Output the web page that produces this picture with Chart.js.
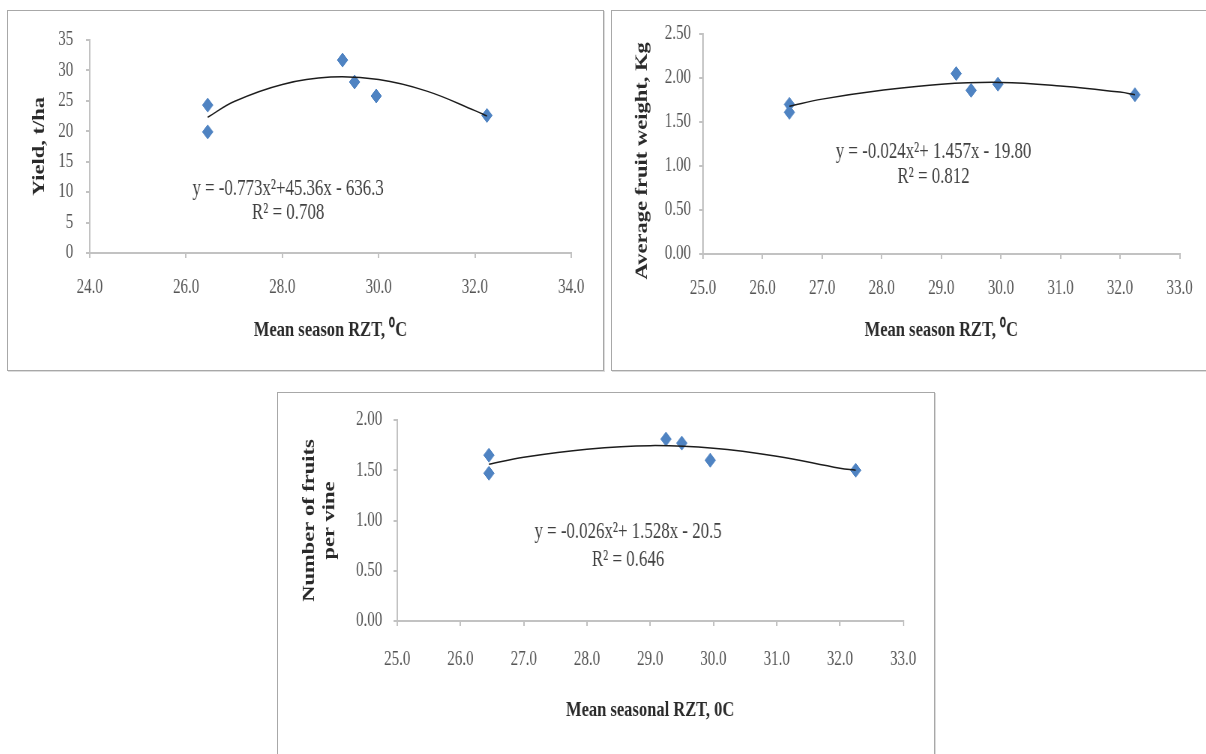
<!DOCTYPE html>
<html>
<head>
<meta charset="utf-8">
<script src="https://cdn.jsdelivr.net/npm/chart.js@4.4.1/dist/chart.umd.min.js"></script>
<style>
  html, body { margin:0; padding:0; background:#ffffff; width:1206px; height:754px; overflow:hidden; }
  .frame { position:absolute; border:1px solid #a8a8a8; box-shadow:1px 1px 0 #dcdcdc; background:#fff; box-sizing:border-box; }
  .wrap { position:absolute; overflow:visible; }
  .wrap canvas { position:absolute; left:0; top:0; transform:scaleX(0.75); transform-origin:0 0; }
</style>
</head>
<body>
<div class="frame" style="left:7px;top:10px;width:597px;height:361px"></div>
<div class="frame" style="left:611px;top:10px;width:620px;height:361px"></div>
<div class="frame" style="left:277px;top:392px;width:658px;height:380px"></div>

<div class="wrap" style="left:8px;top:11px;width:594px;height:358px"><canvas id="c1" width="792" height="358"></canvas></div>
<div class="wrap" style="left:613px;top:11px;width:593px;height:358px"><canvas id="c2" width="791" height="358"></canvas></div>
<div class="wrap" style="left:278px;top:393px;width:655px;height:361px"><canvas id="c3" width="873" height="361"></canvas></div>

<script>
// ---------- data ----------
const rztTemps = [26.45, 26.45, 29.25, 29.5, 29.95, 32.25];

const yieldValues = [24.3, 19.9, 31.7, 28.1, 25.8, 22.6];
const fruitWeightValues = [1.70, 1.61, 2.05, 1.86, 1.93, 1.81];
const fruitsPerVineValues = [1.65, 1.47, 1.81, 1.77, 1.60, 1.50];

// fitted polynomial trend lines
const trendTemps = [26.45, 27, 28, 29, 30, 31, 32, 32.25];
const yieldTrend = [22.3, 24.9, 27.7, 28.9, 28.5, 26.6, 23.4, 22.5];
const fruitWeightTrend = [1.68, 1.76, 1.86, 1.93, 1.95, 1.91, 1.84, 1.81];
const fruitsPerVineTrend = [1.56, 1.63, 1.71, 1.745, 1.72, 1.64, 1.52, 1.50];

// tick labels
const yieldXTicks = [24, 26, 28, 30, 32, 34];
const yieldYTicks = [0, 5, 10, 15, 20, 25, 30, 35];
const weightXTicks = [25, 26, 27, 28, 29, 30, 31, 32, 33];
const weightYTicks = [0, 0.5, 1.0, 1.5, 2.0, 2.5];
const vineXTicks = [25, 26, 27, 28, 29, 30, 31, 32, 33];
const vineYTicks = [0, 0.5, 1.0, 1.5, 2.0];

// equation labels
const yieldEquation = ['y = -0.773x\u00B2+45.36x - 636.3', 'R\u00B2 = 0.708'];
const weightEquation = ['y = -0.024x\u00B2+ 1.457x - 19.80', 'R\u00B2 = 0.812'];
const vineEquation = ['y = -0.026x\u00B2+ 1.528x - 20.5', 'R\u00B2 = 0.646'];

// ---------- rendering ----------
const SERIF = '"Liberation Serif", "Times New Roman", serif';
const AXIS = '#c2c2c2';
const TICKCOL = '#555555';
const TITLECOL = '#2a2a2a';
const MARKER = '#4f83c2';

const eqPlugin = {
  id: 'eq',
  afterDatasetsDraw(chart, args, o) {
    const { ctx, scales: { x, y } } = chart;
    ctx.save();
    ctx.font = o.font;
    ctx.fillStyle = o.color;
    ctx.textAlign = 'center';
    ctx.textBaseline = 'middle';
    o.lines.forEach((t, i) => ctx.fillText(t, x.getPixelForValue(o.x), y.getPixelForValue(o.y[i])));
    ctx.restore();
  }
};

function makeChart(id, c) {
  return new Chart(document.getElementById(id), {
    type: 'scatter',
    plugins: [eqPlugin],
    data: {
      datasets: [
        {
          type: 'line',
          data: trendTemps.map((x, i) => ({ x, y: c.trend[i] })),
          borderColor: '#1c1c1c', borderWidth: 1.5, pointRadius: 0, tension: 0.4, fill: false, order: 0
        },
        {
          data: rztTemps.map((x, i) => ({ x, y: c.values[i] })),
          pointStyle: 'rectRot', pointRadius: 7, backgroundColor: MARKER, borderColor: MARKER, borderWidth: 1, order: 1
        }
      ]
    },
    options: {
      responsive: false,
      animation: false,
      devicePixelRatio: 1,
      events: [],
      layout: { padding: c.pad },
      plugins: {
        legend: { display: false },
        tooltip: { enabled: false },
        eq: { lines: c.eq, x: c.eqX, y: c.eqY, font: '22.5px ' + SERIF, color: '#404040' }
      },
      scales: {
        x: {
          type: 'linear', min: c.xTicks[0], max: c.xTicks[c.xTicks.length - 1],
          afterBuildTicks: s => { s.ticks = c.xTicks.map(v => ({ value: v })); },
          afterFit: s => { s.height = c.xH; },
          ticks: { autoSkip: false, maxRotation: 0, callback: v => Number(v).toFixed(1), font: { family: SERIF, size: 20 }, color: TICKCOL, padding: c.xPad },
          grid: { drawOnChartArea: false, tickLength: 5, color: AXIS, lineWidth: 2 },
          border: { color: AXIS, width: 2 },
          title: { display: true, text: c.xTitle, font: { family: SERIF, size: 22, weight: 'bold' }, color: TITLECOL, padding: { top: 0, bottom: c.xTitlePad } }
        },
        y: {
          type: 'linear', min: c.yTicks[0], max: c.yTicks[c.yTicks.length - 1],
          afterBuildTicks: s => { s.ticks = c.yTicks.map(v => ({ value: v })); },
          afterFit: s => { s.width = c.yW; },
          ticks: { autoSkip: false, callback: v => Number(v).toFixed(c.yDec), font: { family: SERIF, size: 20 }, color: TICKCOL, padding: c.yPad },
          grid: { drawOnChartArea: false, tickLength: 5, color: AXIS, lineWidth: 2 },
          border: { color: AXIS, width: 2 },
          title: { display: true, text: c.yTitle, font: { family: SERIF, size: 22.5, weight: 'bold' }, color: TITLECOL, padding: { top: c.yTitlePad, bottom: 0 } }
        }
      }
    }
  });
}

makeChart('c1', {
  values: yieldValues, trend: yieldTrend, xTicks: yieldXTicks, yTicks: yieldYTicks, yDec: 0,
  pad: { left: 0, right: 41, top: 22, bottom: 0 }, yW: 109, xH: 116,
  xPad: 18, yPad: 17, xTitlePad: 25, yTitlePad: 29,
  xTitle: 'Mean season RZT, \u2070C', yTitle: 'Yield, t/ha',
  eq: yieldEquation, eqX: 28.12, eqY: [10.5, 6.5]
});

makeChart('c2', {
  values: fruitWeightValues, trend: fruitWeightTrend, xTicks: weightXTicks, yTicks: weightYTicks, yDec: 2,
  pad: { left: 0, right: 32, top: 22, bottom: 0 }, yW: 120, xH: 115,
  xPad: 18, yPad: 11, xTitlePad: 25, yTitlePad: 26,
  xTitle: 'Mean season RZT, \u2070C', yTitle: 'Average fruit weight, Kg      ',
  eq: weightEquation, eqX: 28.87, eqY: [1.154, 0.871]
});

makeChart('c3', {
  values: fruitsPerVineValues, trend: fruitsPerVineTrend, xTicks: vineXTicks, yTicks: vineYTicks, yDec: 2,
  pad: { left: 0, right: 30, top: 27, bottom: 0 }, yW: 159, xH: 133,
  xPad: 22, yPad: 15, xTitlePad: 30, yTitlePad: 29,
  xTitle: 'Mean seasonal RZT, 0C', yTitle: ['Number of fruits', 'per vine'],
  eq: vineEquation, eqX: 28.65, eqY: [0.887, 0.608]
});
</script>
</body>
</html>
